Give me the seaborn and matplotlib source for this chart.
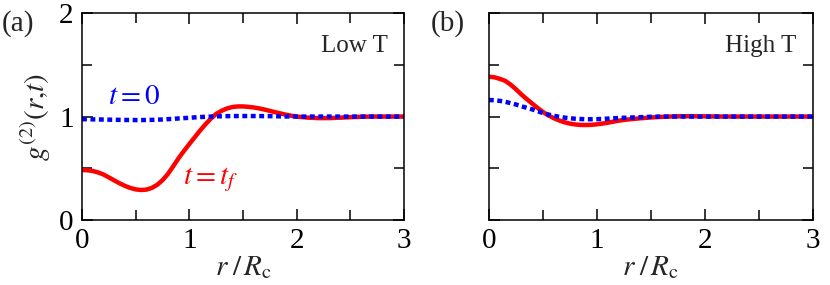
import numpy as np
import pandas as pd
import matplotlib
matplotlib.use('Agg')
import matplotlib.pyplot as plt
import seaborn as sns
from matplotlib.ticker import MultipleLocator

#%%
r = [0.00, 0.05, 0.10, 0.15, 0.20, 0.25, 0.30, 0.35, 0.40, 0.45,
     0.50, 0.55, 0.60, 0.65, 0.70, 0.75, 0.80, 0.85, 0.90, 0.95,
     1.00, 1.05, 1.10, 1.15, 1.20, 1.25, 1.30, 1.35, 1.40, 1.45,
     1.50, 1.55, 1.60, 1.65, 1.70, 1.75, 1.80, 1.85, 1.90, 1.95,
     2.00, 2.1, 2.2, 2.3, 2.4, 2.5, 2.6, 2.7, 2.8, 2.9, 3.0]

# (a) low T
low_t0 = [0.975, 0.974, 0.973, 0.972, 0.971, 0.970, 0.969, 0.968, 0.967, 0.967,
          0.966, 0.966, 0.967, 0.968, 0.970, 0.972, 0.975, 0.978, 0.982, 0.985,
          0.988, 0.992, 0.995, 0.998, 1.000, 1.002, 1.003, 1.004, 1.005, 1.005,
          1.005, 1.005, 1.005, 1.005, 1.004, 1.004, 1.003, 1.002, 1.001, 1.001,
          1.000, 1.0, 1.0, 1.0, 1.0, 1.0, 1.0, 1.0, 1.0, 1.0, 1.0]
low_tf = [0.483, 0.481, 0.474, 0.460, 0.440, 0.412, 0.383, 0.355, 0.330, 0.310,
          0.296, 0.290, 0.294, 0.310, 0.340, 0.385, 0.445, 0.520, 0.598, 0.668,
          0.735, 0.800, 0.865, 0.925, 0.980, 1.025, 1.056, 1.078, 1.092, 1.098,
          1.098, 1.094, 1.088, 1.079, 1.068, 1.055, 1.042, 1.030, 1.018, 1.008,
          1.000, 0.990, 0.985, 0.985, 0.989, 0.994, 0.998, 1.0, 1.0, 1.0, 1.0]

# (b) high T
high_t0 = [1.160, 1.158, 1.152, 1.143, 1.130, 1.117, 1.100, 1.085, 1.070, 1.052,
           1.035, 1.020, 1.008, 0.998, 0.990, 0.984, 0.979, 0.976, 0.974, 0.974,
           0.975, 0.977, 0.980, 0.983, 0.986, 0.988, 0.990, 0.992, 0.994, 0.996,
           0.998, 0.999, 1.0, 1.0, 1.0, 1.0, 1.0, 1.0, 1.0, 1.0,
           1.0, 1.0, 1.0, 1.0, 1.0, 1.0, 1.0, 1.0, 1.0, 1.0, 1.0]
high_tf = [1.385, 1.380, 1.365, 1.346, 1.310, 1.265, 1.215, 1.170, 1.127, 1.085,
           1.045, 1.012, 0.985, 0.963, 0.945, 0.932, 0.924, 0.919, 0.918, 0.920,
           0.925, 0.932, 0.940, 0.950, 0.960, 0.967, 0.973, 0.978, 0.983, 0.987,
           0.991, 0.994, 0.997, 0.999, 1.001, 1.002, 1.003, 1.003, 1.003, 1.002,
           1.002, 1.001, 1.0, 1.0, 1.0, 1.0, 1.0, 1.0, 1.0, 1.0, 1.0]

panel_labels = ['(a)', '(b)']
temp_labels = ['Low T', 'High T']

#%%
sns.set_style('ticks')
serif = ['Liberation Serif', 'DejaVu Serif']
plt.rcParams['font.family'] = serif
plt.rcParams['mathtext.fontset'] = 'stix'

fig = plt.figure(figsize=(8.3, 2.85), dpi=100)
ax_a = fig.add_axes([0.0988, 0.228, 0.388, 0.726])
ax_b = fig.add_axes([0.589, 0.228, 0.390, 0.726])

red = '#ff0000'
blue = '#0000ff'

for ax, t0, tf, tlab in zip([ax_a, ax_b], [low_t0, high_t0], [low_tf, high_tf], temp_labels):
    df = pd.DataFrame({'r': r, 't0': t0, 'tf': tf})
    sns.lineplot(data=df, x='r', y='tf', ax=ax, color=red, lw=3.2)
    sns.lineplot(data=df, x='r', y='t0', ax=ax, color=blue, lw=3.2,
                 linestyle=(0, (1.1, 0.8)), dash_capstyle='butt')
    ax.set_xlim(0, 3)
    ax.set_ylim(0, 2)
    ax.xaxis.set_major_locator(MultipleLocator(1))
    ax.xaxis.set_minor_locator(MultipleLocator(0.5))
    ax.yaxis.set_major_locator(MultipleLocator(1))
    ax.yaxis.set_minor_locator(MultipleLocator(0.5))
    ax.tick_params(which='both', direction='in', top=True, right=True,
                   width=1.1, labelsize=21, colors='black', pad=6)
    ax.tick_params(which='major', length=8)
    ax.tick_params(which='minor', length=7)
    for lab in ax.get_xticklabels() + ax.get_yticklabels():
        lab.set_fontfamily(serif)
    for s in ax.spines.values():
        s.set_linewidth(1.1)
        s.set_color('black')
    ax.set_xlabel(r'$r\;/\,R_{\mathrm{c}}$', fontsize=21, labelpad=0)
    ax.set_ylabel('')
    ax.text(0.95, 0.84, tlab, transform=ax.transAxes, ha='right', va='center',
            fontsize=18, family=serif)

ax_b.set_yticklabels([])
ax_a.set_ylabel(r'$g^{(2)}(r{,}t)$', fontsize=21, labelpad=4)

ax_a.text(-0.25, 0.95, panel_labels[0], transform=ax_a.transAxes, ha='left', va='center',
          fontsize=21, family=serif)
ax_b.text(-0.18, 0.95, panel_labels[1], transform=ax_b.transAxes, ha='left', va='center',
          fontsize=21, family=serif)

ax_a.text(0.24, 1.19, r'$t = 0$', color=blue, fontsize=21, ha='left', va='center')
ax_a.text(0.94, 0.39, r'$t = t_f$', color=red, fontsize=21, ha='left', va='center')

fig.savefig('out.png', dpi=100)
